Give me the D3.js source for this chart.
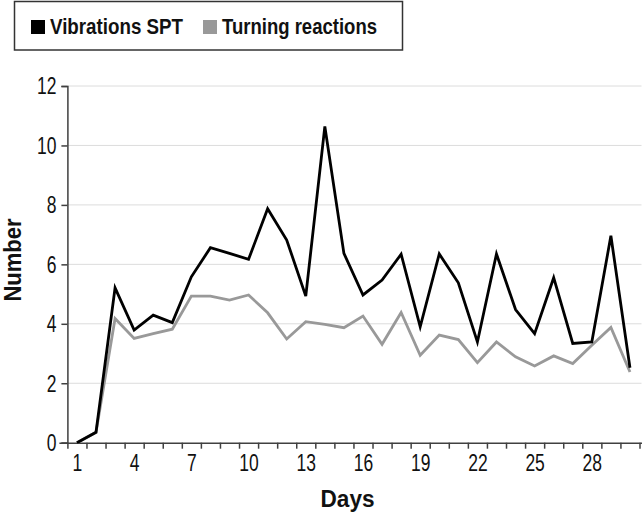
<!DOCTYPE html>
<html>
<head>
<meta charset="utf-8">
<script src="https://cdn.jsdelivr.net/npm/d3@7"></script>
<style>
  body { margin: 0; background: #fff; }
  svg { display: block; }
  text { font-family: "Liberation Sans", Arial, sans-serif; }
</style>
</head>
<body>
<svg id="chart" width="642" height="517"></svg>
<script>
const days = d3.range(1, 31);
const vibrationsSPT = [0, 0.35, 5.21, 3.79, 4.29, 4.04, 5.58, 6.56, 6.37, 6.17,
  7.87, 6.82, 4.93, 10.64, 6.37, 4.97, 5.47, 6.34, 3.90, 6.35,
  5.38, 3.39, 6.35, 4.48, 3.67, 5.55, 3.34, 3.39, 6.96, 2.52];
const turningReactions = [0, 0.35, 4.18, 3.51, 3.67, 3.82, 4.93, 4.93, 4.80, 4.97,
  4.37, 3.49, 4.07, 3.98, 3.87, 4.26, 3.31, 4.38, 2.94, 3.62,
  3.47, 2.69, 3.39, 2.89, 2.58, 2.92, 2.66, 3.28, 3.88, 2.38];
const yTicks = [0, 2, 4, 6, 8, 10, 12];
const xTickLabels = [1, 4, 7, 10, 13, 16, 19, 22, 25, 28];
const seriesNames = ["Vibrations SPT", "Turning reactions"];
const seriesColors = ["#000000", "#999999"];

const svg = d3.select("#chart");
const mLeft = 67.4, mRight = 639.5, mTop = 86, mBottom = 442.7;
const FONT = "'Liberation Sans', Arial, sans-serif";

function condense(sel, factor) {
  sel.each(function () {
    const w = this.getComputedTextLength();
    this.setAttribute("textLength", (w * factor).toFixed(2));
    this.setAttribute("lengthAdjust", "spacingAndGlyphs");
  });
}
function fitWidth(sel, width) {
  sel.attr("textLength", width).attr("lengthAdjust", "spacingAndGlyphs");
}

const x = d3.scaleLinear().domain([0.5, 30.5]).range([mLeft, mRight]);
const y = d3.scaleLinear().domain([0, 12]).range([mBottom, mTop]);

// gridlines
svg.append("g").selectAll("line").data(yTicks.filter(d => d > 0)).join("line")
  .attr("x1", mLeft).attr("x2", mRight + 2)
  .attr("y1", d => y(d)).attr("y2", d => y(d))
  .attr("stroke", "#dcdcdc").attr("stroke-width", 1);

// y axis
const yAxis = svg.append("g").attr("transform", `translate(${mLeft},0)`)
  .call(d3.axisLeft(y).tickValues(yTicks).tickSize(6).tickPadding(5));
yAxis.select(".domain").attr("stroke", "#404040").attr("stroke-width", 1.5);
yAxis.selectAll(".tick line").attr("stroke", "#404040").attr("stroke-width", 1.5);
yAxis.selectAll("text").attr("font-size", 23).attr("fill", "#111").attr("dy", "0.34em")
  .style("font-family", FONT).call(condense, 0.76);

// x axis ticks (category boundaries)
const xAxis = svg.append("g").attr("transform", `translate(0,${mBottom})`)
  .call(d3.axisBottom(x).tickValues(d3.range(0.5, 31, 1)).tickSize(6).tickFormat(""));
xAxis.select(".domain").attr("stroke", "#404040").attr("stroke-width", 1.5)
  .attr("d", `M${mLeft - 8},0.5H${642}`);
xAxis.selectAll(".tick line").attr("stroke", "#404040").attr("stroke-width", 1.5);

// x tick labels
const xLabels = svg.append("g").attr("transform", `translate(0,${mBottom})`)
  .call(d3.axisBottom(x).tickValues(xTickLabels).tickSize(0).tickPadding(12).tickFormat(d3.format("d")));
xLabels.select(".domain").remove();
xLabels.selectAll("text").attr("font-size", 23).attr("fill", "#111")
  .style("font-family", FONT).call(condense, 0.76);

// lines
const line = d3.line().x((d, i) => x(days[i])).y(d => y(d));
[turningReactions, vibrationsSPT].forEach((s, k) => {
  svg.append("path").datum(s)
    .attr("fill", "none")
    .attr("stroke", k === 0 ? seriesColors[1] : seriesColors[0])
    .attr("stroke-width", 2.8)
    .attr("stroke-linejoin", "miter")
    .attr("d", line);
});

// axis titles
svg.append("text").attr("x", 347.5).attr("y", 507).attr("text-anchor", "middle")
  .attr("font-size", 23).attr("font-weight", "bold").attr("fill", "#111").text("Days")
  .call(fitWidth, 54);
svg.append("text").attr("transform", "translate(21,260) rotate(-90)").attr("text-anchor", "middle")
  .attr("font-size", 24).attr("font-weight", "bold").attr("fill", "#111").text("Number")
  .call(fitWidth, 83);

// legend
const lg = svg.append("g");
lg.append("rect").attr("x", 14.5).attr("y", 1.5).attr("width", 388).attr("height", 48.5)
  .attr("fill", "#fff").attr("stroke", "#333").attr("stroke-width", 1.5);
const legX = [31, 203];
const legW = [133, 155];
seriesNames.forEach((n, i) => {
  lg.append("rect").attr("x", legX[i]).attr("y", 20).attr("width", 14).attr("height", 14)
    .attr("fill", seriesColors[i]);
  lg.append("text").attr("x", legX[i] + 19).attr("y", 34).attr("font-size", 22)
    .attr("font-weight", "bold").attr("fill", "#111").text(n)
    .call(fitWidth, legW[i]);
});
</script>
</body>
</html>
